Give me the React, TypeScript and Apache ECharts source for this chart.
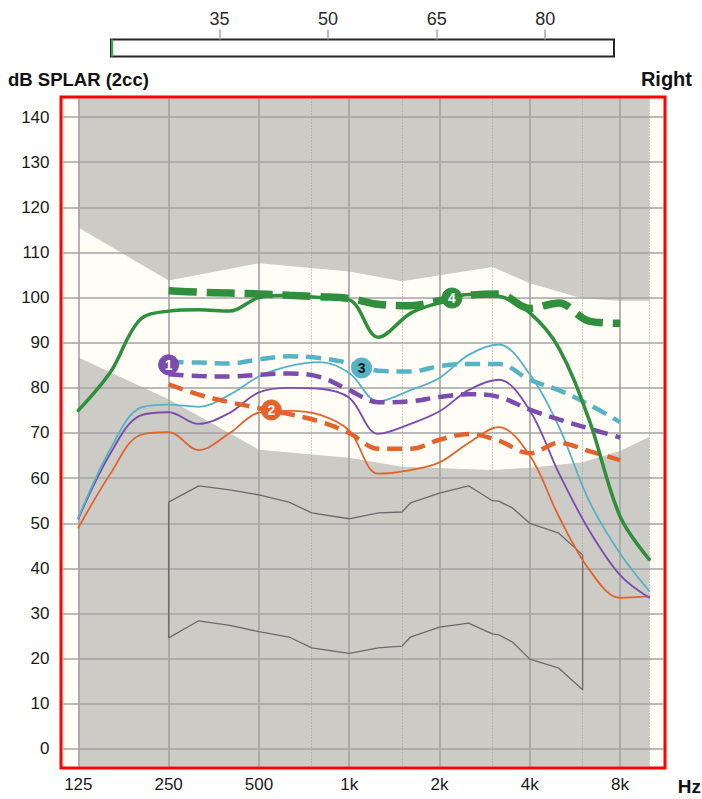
import { useEffect, useRef } from "react";
import * as echarts from "echarts";

// ---------- data ----------
const FREQS = [125, 160, 200, 250, 315, 400, 500, 630, 800, 1000, 1250, 1600, 2000, 2500, 3150, 4000, 5000, 6300, 8000, 10000];
const TARGET_FREQS = [250, 315, 400, 500, 630, 800, 1000, 1250, 1600, 2000, 2500, 3150, 4000, 5000, 6300, 8000];

const MEASURED_1 = [51, 65.5, 73.8, 74.6, 72, 74.5, 79, 80, 79.8, 77.8, 69.8, 72, 74.8, 79.5, 81.8, 75, 61.1, 48.5, 38.5, 33.5];
const MEASURED_2 = [49, 61, 69.5, 70.2, 66.2, 70, 74.5, 74.9, 74, 70.5, 61, 61.8, 63.5, 67.8, 71.3, 65, 51.5, 39.8, 33.5, 33.8];
const MEASURED_3 = [51.2, 66.5, 75.5, 76.3, 75.8, 78.5, 82.5, 84.8, 85.7, 83.3, 77, 79.5, 82.2, 87.3, 89.6, 83, 71.4, 55, 43.3, 35];
const MEASURED_4 = [75, 83.5, 95, 97, 97.3, 97, 100, 100.5, 100, 99.5, 91.2, 96.5, 98.9, 100.7, 100.3, 96.6, 88.8, 73, 51.5, 42];

const TARGET_1 = [83, 82.6, 82.5, 82.9, 83.2, 82.4, 79.5, 76.8, 77, 78, 78.6, 78, 75.2, 73, 71, 69];
const TARGET_2 = [80.8, 78.5, 76.8, 75.5, 74.2, 72.5, 70, 66.5, 66.5, 68.5, 69.8, 68.3, 65.5, 67.8, 66, 64];
const TARGET_3 = [85.7, 85.6, 85.4, 86.3, 87, 86.6, 85.5, 83.8, 83.6, 84.8, 85.3, 85.3, 81.8, 79.5, 76.3, 72.4];
const TARGET_4 = [101.5, 101.2, 101, 100.8, 100.5, 100.2, 99.8, 98.5, 98.2, 99.3, 100.5, 100.8, 97.6, 98.8, 94.8, 94.3];

const MARKER_1 = [250, 85.1];
const MARKER_2 = [550, 75.1];
const MARKER_3 = [1100, 84.4];
const MARKER_4 = [2200, 99.9];

const BAND_FREQS = [125, 250, 500, 1000, 1500, 3000, 4000, 6000, 8000, 10000];
const BAND_UPPER = [115.5, 103.8, 107.6, 105.8, 103.6, 106.8, 103.2, 99.8, 99.3, 99.3];
const BAND_LOWER = [86.7, 77.5, 66.3, 64.5, 62.5, 61.8, 62.3, 63.5, 66, 69.1];

const SPEECH_FREQS = [250, 315, 400, 500, 630, 750, 1000, 1250, 1500, 1600, 2000, 2500, 3000, 3150, 3500, 4000, 5000, 6000];
const SPEECH_UPPER = [54.7, 58.3, 57.4, 56.3, 54.7, 52.3, 51, 52.3, 52.5, 54.5, 56.7, 58.3, 55, 54.9, 53.4, 50, 47.8, 43];
const SPEECH_LOWER = [24.6, 28.4, 27.4, 26, 24.8, 22.4, 21.2, 22.4, 22.8, 24.8, 27, 27.9, 25.5, 25.3, 23.7, 19.9, 17.9, 13.1];

const X_TICKS = [125, 250, 500, 1000, 2000, 4000, 8000];
const X_TICK_LABELS = ["125", "250", "500", "1k", "2k", "4k", "8k"];
const X_MINOR = [750, 1500, 3000, 6000, 10000];
const Y_TICKS = [0, 10, 20, 30, 40, 50, 60, 70, 80, 90, 100, 110, 120, 130, 140];

const LEVEL_TICKS = [35, 50, 65, 80];
const LEVEL_VALUE = 20.3;

// ---------- style ----------
const GRAY = "#cccbc6";
const CREAM = "#fffdf6";
const GREEN = "#2f8f3c";
const PURPLE = "#7a4cae";
const CYAN = "#56b2c6";
const ORANGE = "#e2632c";
const GRID = "#a3a3a3";
const FONT = '"Liberation Sans", Arial, sans-serif';

const pts = (xs: number[], ys: number[]) => xs.map((x, i) => [x, ys[i]]);

function marker(coord: number[], color: string, text: string, textColor: string) {
  return {
    symbol: "circle",
    symbolSize: 20,
    z: 20,
    silent: true,
    itemStyle: { color, borderColor: color, borderWidth: 1 },
    label: {
      show: true,
      position: "inside",
      formatter: text,
      color: textColor,
      fontWeight: "bold",
      fontSize: 14,
      fontFamily: FONT,
    },
    data: [{ coord }],
  };
}

function solid(name: string, data: number[], color: string, width: number, z: number) {
  return {
    name,
    type: "line",
    data: pts(FREQS, data),
    smooth: 0.35,
    symbol: "none",
    lineStyle: { color, width, cap: "round", join: "round" },
    z,
    silent: true,
  };
}

function dashed(name: string, data: number[], color: string, width: number, dash: number[], z: number, mk: any) {
  return {
    name,
    type: "line",
    data: pts(TARGET_FREQS, data),
    smooth: 0.35,
    symbol: "none",
    lineStyle: { color, width, type: dash, cap: "butt" },
    z,
    silent: true,
    markPoint: mk,
  };
}

const xLabel = (v: number) => {
  const i = X_TICKS.findIndex((t) => Math.abs(Math.log2(v / t)) < 0.02);
  return i >= 0 ? X_TICK_LABELS[i] : "";
};

const X_MIN = 110.7;
const X_MAX = 11163;

const option: any = {
  animation: false,
  grid: [
    { left: 62.5, right: 38.5, top: 98.5, bottom: 32.5, show: true, backgroundColor: CREAM, borderWidth: 0 },
    { left: 111, right: 88, top: 39.5, height: 17, show: true, backgroundColor: "#ffffff", borderColor: "#262626", borderWidth: 2 },
  ],
  xAxis: [
    {
      type: "log",
      logBase: 2,
      gridIndex: 0,
      min: X_MIN,
      max: X_MAX,
      z: 4,
      axisLine: { show: false },
      axisTick: { show: false, customValues: X_TICKS },
      axisLabel: {
        customValues: X_TICKS,
        formatter: xLabel,
        color: "#1a1a1a",
        fontSize: 17,
        fontFamily: FONT,
        margin: 9,
      },
      splitLine: { show: true, lineStyle: { color: GRID, width: 1.6 } },
    },
    {
      type: "log",
      logBase: 2,
      gridIndex: 0,
      min: X_MIN,
      max: X_MAX,
      z: 4,
      axisLine: { show: false },
      axisTick: { show: false, customValues: X_MINOR },
      axisLabel: { show: false, customValues: X_MINOR },
      splitLine: { show: true, lineStyle: { color: "#9a9a9a", width: 1, type: [1, 2] } },
    },
    {
      type: "value",
      gridIndex: 1,
      position: "top",
      min: 20,
      max: 89.5,
      z: 4,
      axisLine: { show: false },
      axisTick: { show: true, inside: false, length: 10, customValues: LEVEL_TICKS, lineStyle: { color: "#a8a8a8", width: 1.5 } },
      axisLabel: { customValues: LEVEL_TICKS, color: "#2a2a2a", fontSize: 18, fontFamily: FONT, margin: 12 },
      splitLine: { show: false },
    },
  ],
  yAxis: [
    {
      type: "value",
      gridIndex: 0,
      min: -3.88,
      max: 144.1,
      z: 4,
      axisLine: { show: false },
      axisTick: { show: false, customValues: Y_TICKS },
      axisLabel: { customValues: Y_TICKS, color: "#1a1a1a", fontSize: 17, fontFamily: FONT, margin: 13 },
      splitLine: { show: true, lineStyle: { color: GRID, width: 1.6 } },
    },
    {
      type: "category",
      gridIndex: 1,
      data: ["level"],
      show: false,
    },
  ],
  series: [
    {
      name: "band-upper",
      type: "line",
      data: pts(BAND_FREQS, BAND_UPPER),
      symbol: "none",
      silent: true,
      lineStyle: { width: 0, opacity: 0 },
      areaStyle: { color: CREAM, opacity: 1, origin: "start" },
      z: 2,
      markArea: {
        silent: true,
        itemStyle: { color: GRAY },
        data: [[{ xAxis: 125 }, { xAxis: 10000 }]],
      },
    },
    {
      name: "band-lower",
      type: "line",
      data: pts(BAND_FREQS, BAND_LOWER),
      symbol: "none",
      silent: true,
      lineStyle: { width: 0, opacity: 0 },
      areaStyle: { color: GRAY, opacity: 1, origin: "start" },
      z: 3,
    },
    {
      name: "speech",
      type: "line",
      data: [
        ...pts(SPEECH_FREQS, SPEECH_UPPER),
        ...pts(SPEECH_FREQS, SPEECH_LOWER).reverse(),
        [SPEECH_FREQS[0], SPEECH_UPPER[0]],
      ],
      symbol: "none",
      silent: true,
      lineStyle: { color: "#6a6a6a", width: 1.3 },
      z: 5,
    },
    solid("measured-2", MEASURED_2, ORANGE, 1.8, 6),
    solid("measured-1", MEASURED_1, PURPLE, 1.8, 6),
    solid("measured-3", MEASURED_3, CYAN, 1.8, 6),
    dashed("target-2", TARGET_2, ORANGE, 4.5, [15, 8], 7, marker(MARKER_2, ORANGE, "2", "#fff6ee")),
    dashed("target-1", TARGET_1, PURPLE, 4.5, [15, 8], 7, marker(MARKER_1, PURPLE, "1", "#ffffff")),
    dashed("target-3", TARGET_3, CYAN, 4.5, [15, 8], 7, marker(MARKER_3, CYAN, "3", "#151515")),
    solid("measured-4", MEASURED_4, GREEN, 3.5, 8),
    dashed("target-4", TARGET_4, GREEN, 7.5, [28, 10], 8, marker(MARKER_4, GREEN, "4", "#ffffff")),
    {
      name: "level",
      type: "line",
      xAxisIndex: 2,
      yAxisIndex: 1,
      data: [[LEVEL_VALUE, "level"]],
      symbol: "none",
      silent: true,
      lineStyle: { opacity: 0 },
      markArea: {
        silent: true,
        itemStyle: { color: "#3aa64a" },
        data: [[{ xAxis: 20 }, { xAxis: LEVEL_VALUE }]],
      },
    },
  ],
  graphic: [
    {
      type: "rect",
      z: 100,
      silent: true,
      shape: { x: 61, y: 97, width: 604, height: 671 },
      style: { fill: "none", stroke: "#ff0000", lineWidth: 3 },
    },
    {
      type: "text",
      z: 100,
      x: 8,
      y: 79,
      style: { text: "dB SPLAR (2cc)", font: `bold 18.5px ${FONT}`, fill: "#111", verticalAlign: "middle" },
    },
    {
      type: "text",
      z: 100,
      x: 692,
      y: 79,
      style: { text: "Right", font: `bold 20px ${FONT}`, fill: "#111", align: "right", verticalAlign: "middle" },
    },
    {
      type: "text",
      z: 100,
      x: 701,
      y: 786,
      style: { text: "Hz", font: `bold 19px ${FONT}`, fill: "#111", align: "right", verticalAlign: "middle" },
    },
  ],
};

export default function App() {
  const ref = useRef<HTMLDivElement>(null);
  useEffect(() => {
    if (!ref.current) return;
    const chart = echarts.init(ref.current, null, { renderer: "svg" });
    chart.setOption(option);
    return () => chart.dispose();
  }, []);
  return <div ref={ref} style={{ position: "absolute", left: 0, top: 0, width: 702, height: 799 }} />;
}
